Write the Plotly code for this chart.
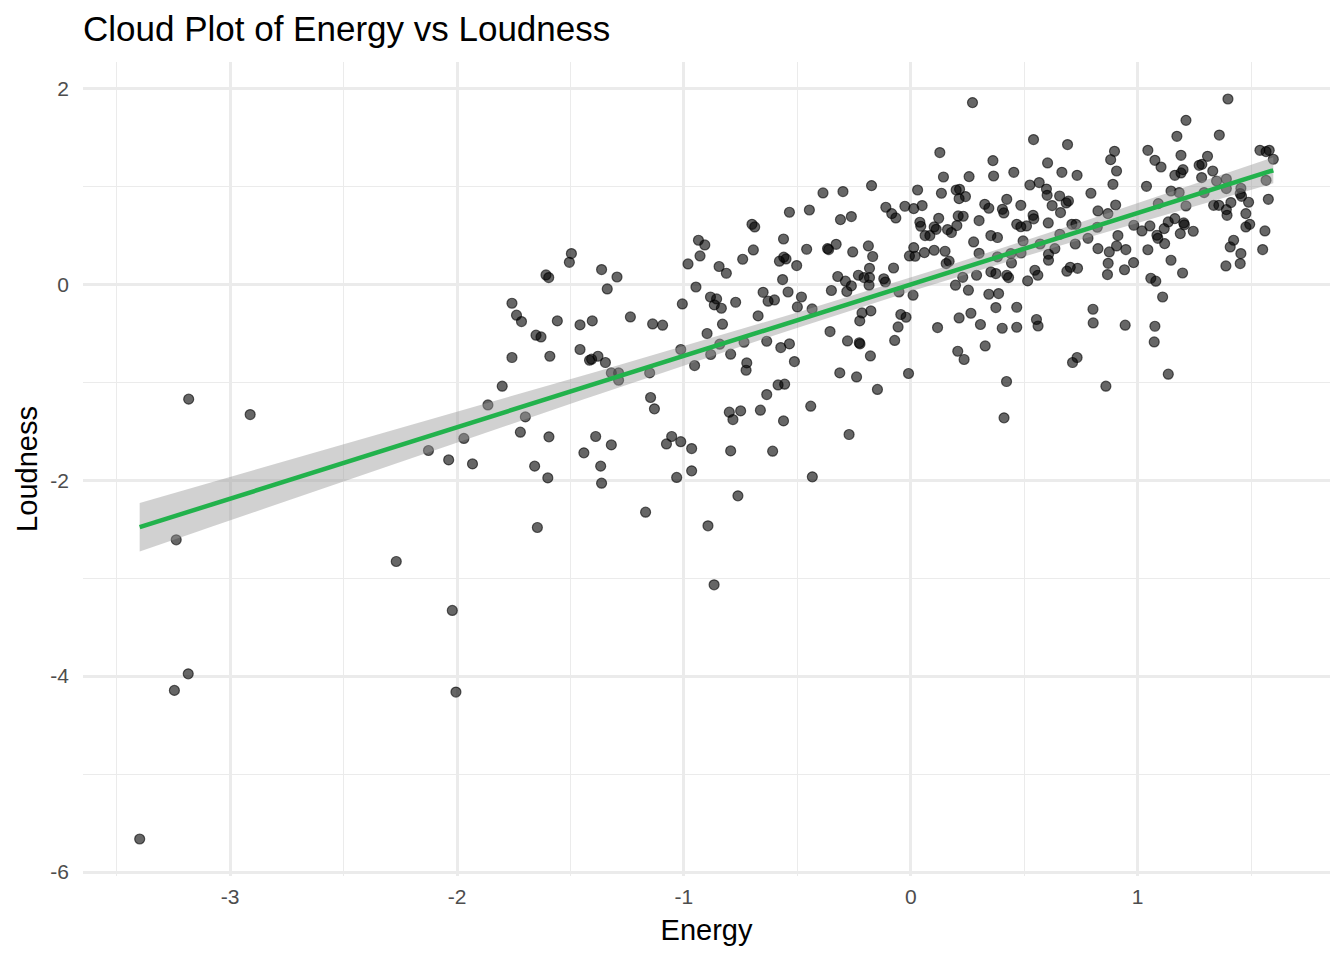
import numpy as np
import plotly.graph_objects as go

# standardized values
energy = [
    -3.399, -3.246, -3.185, -3.238, -3.183, -2.912, -2.268, -2.126, -2.037, -1.970,
    -1.932, -2.021, -2.005,
    -1.496, -1.505, -1.608, -1.596, -1.363, -1.295, -1.338, -1.758, -1.738, -1.716,
    -1.558, -1.458, -1.404, -1.236, -1.138, -1.094, -1.652, -1.630, -1.758, -1.591,
    -1.458, -1.379, -1.416, -1.407, -1.346, -1.320, -1.288, -1.288, -1.151, -1.801,
    -1.864, -1.699, -1.147, -1.130, -1.721, -1.595, -1.389, -1.320, -1.441, -1.054,
    -1.077, -1.658, -1.600, -1.367, -1.363, -1.032, -1.169, -1.646,
    -0.173, -0.387, -0.299, -0.535, -0.447, -0.310, -0.262, -0.700, -0.688, -0.936,
    -0.908, -0.561, -0.694, -0.459, -0.367, -0.362, -0.329, -0.256, -0.187, -0.168,
    -0.982, -0.929, -0.741, -0.579, -0.550, -0.560, -0.503, -0.845, -0.813, -0.182,
    -0.565, -0.322, -0.288, -0.231, -0.206, -0.182, -0.262, -0.184, -0.282, -0.350,
    -0.947, -1.007, -0.883, -0.856, -0.866, -0.835, -0.772, -0.651, -0.629, -0.601,
    -0.541, -0.482, -0.500, -0.435, -0.673, -0.830, -0.215, -0.176, -0.225, -0.356,
    -0.898, -0.279, -0.224, -0.227, -0.178, -1.014, -0.842, -0.735, -0.635, -0.573,
    -0.535, -0.882, -0.794, -0.953, -0.723, -0.726, -0.513, -0.313, -0.239, -1.014,
    -0.147, -0.585, -0.556, -0.635, -0.800, -0.750, -0.784, -0.663, -0.561, -0.441,
    -0.272, -0.966, -0.794, -0.609, -0.966, -0.434, -0.762, -0.894, -0.867,
    0.272, 0.128, 0.362, 0.144, 0.257, 0.365, 0.454, 0.030, 0.135, 0.200,
    0.215, 0.213, 0.241, 0.423, -0.110, -0.084, -0.066, -0.026, 0.013, 0.050,
    0.326, 0.344, 0.404, 0.410, 0.040, 0.044, 0.123, 0.209, 0.231, 0.103,
    0.112, 0.162, 0.179, 0.203, 0.301, 0.063, 0.084, 0.353, 0.382, 0.277,
    0.013, -0.006, 0.019, 0.060, 0.103, 0.151, 0.301, 0.156, 0.169, -0.076,
    0.382, 0.441, 0.444,
    -0.112, -0.119, -0.052, 0.010, -0.044, -0.021, -0.056, -0.071, 0.118, -0.010,
    0.197, 0.229, 0.254, 0.290, 0.353, 0.375, 0.423, 0.431, 0.344, 0.387,
    0.375, 0.467, 0.213, 0.265, 0.307, 0.403, 0.467, 0.207, 0.235, 0.328,
    0.422, 0.411,
    0.541, 0.691, 0.603, 0.666, 0.733, 0.898, 0.881, 0.907, 1.045, 0.525,
    0.566, 0.598, 0.601, 0.656, 0.623, 0.685, 0.695, 0.794, 0.891, 1.039,
    0.485, 0.539, 0.542, 0.660, 0.825, 0.869, 0.903, 0.467, 0.485, 0.510,
    0.606, 0.710, 0.728, 0.822, 0.983, 1.019, 1.054, 0.495, 0.570, 0.657,
    0.725, 0.781, 0.913, 0.907, 0.948, 1.045, 0.607, 0.607, 0.635, 0.825,
    0.875, 0.870, 0.982, 0.486, 0.547, 0.560, 0.703, 0.688, 0.735, 0.942,
    0.515, 0.867, 1.058, 0.554, 0.561, 0.803, 0.804, 0.945, 0.733, 0.713,
    0.860,
    1.398, 1.213, 1.173, 1.360, 1.191, 1.076, 1.103, 1.308, 1.271, 1.283,
    1.200, 1.191, 1.164, 1.331, 1.282, 1.539, 1.566, 1.580, 1.598, 1.348,
    1.391, 1.566, 1.147, 1.183, 1.293, 1.391, 1.455, 1.452, 1.458, 1.091,
    1.213, 1.335, 1.358, 1.411, 1.489, 1.576, 1.391, 1.394, 1.477, 1.135,
    1.164, 1.203, 1.206, 1.117, 1.085, 1.089, 1.188, 1.245, 1.119, 1.477,
    1.494, 1.561, 1.423, 1.408, 1.455, 1.551, 1.147, 1.389, 1.452, 1.198,
    1.080, 1.110, 1.076, 1.073, 1.135,
]
loudness = [
    -5.663, -4.146, -3.977, -2.609, -1.173, -1.330, -2.830, -1.697, -1.793, -1.574,
    -1.834, -3.330, -4.163,
    0.313, 0.224, 0.095, 0.068, 0.150, 0.074, -0.048, -0.194, -0.316, -0.381,
    -0.374, -0.415, -0.374, -0.334, -0.405, -0.418, -0.520, -0.538, -0.748, -0.735,
    -0.666, -0.735, -0.776, -0.765, -0.799, -0.905, -0.905, -0.980, -0.905, -1.041,
    -1.232, -1.354, -1.156, -1.272, -1.510, -1.558, -1.554, -1.640, -1.721, -1.554,
    -1.630, -1.857, -1.977, -1.857, -2.031, -1.972, -2.327, -2.483,
    1.007, 0.932, 0.946, 0.735, 0.758, 0.660, 0.691, 0.612, 0.585, 0.449,
    0.401, 0.462, 0.350, 0.357, 0.364, 0.354, 0.408, 0.330, 0.391, 0.283,
    0.207, 0.289, 0.255, 0.235, 0.258, 0.276, 0.191, 0.181, 0.112, 0.163,
    0.048, 0.079, 0.031, 0.092, 0.068, 0.068, -0.017, -0.010, -0.074, -0.064,
    -0.028, -0.201, -0.130, -0.150, -0.211, -0.245, -0.184, -0.082, -0.173, -0.160,
    -0.079, -0.130, -0.232, -0.252, -0.323, -0.408, -0.293, -0.272, -0.374, -0.483,
    -0.503, -0.579, -0.609, -0.597, -0.732, -0.666, -0.612, -0.592, -0.582, -0.646,
    -0.609, -0.717, -0.714, -0.830, -0.803, -0.878, -0.789, -0.905, -0.946, -1.607,
    -1.074, -1.028, -1.020, -1.126, -1.306, -1.293, -1.381, -1.286, -1.395, -1.245,
    -1.534, -1.677, -1.701, -1.704, -1.905, -1.966, -2.160, -2.466, -3.068,
    1.854, 1.344, 1.262, 1.095, 1.099, 1.105, 1.143, 0.962, 0.929, 0.962,
    0.969, 0.874, 0.895, 0.867, 0.786, 0.721, 0.677, 0.796, 0.772, 0.803,
    0.816, 0.776, 0.765, 0.728, 0.633, 0.592, 0.673, 0.697, 0.694, 0.585,
    0.561, 0.558, 0.528, 0.599, 0.650, 0.497, 0.497, 0.497, 0.477, 0.432,
    0.374, 0.289, 0.286, 0.323, 0.347, 0.337, 0.316, 0.211, 0.235, 0.166,
    0.279, 0.313, 0.217,
    0.023, 0.056, -0.079, -0.112, -0.309, -0.337, -0.436, -0.574, -0.442, -0.911,
    -0.010, 0.071, -0.061, 0.092, 0.126, 0.109, 0.092, 0.068, -0.102, -0.095,
    -0.238, -0.235, -0.344, -0.296, -0.411, -0.449, -0.439, -0.684, -0.768, -0.630,
    -0.993, -1.364,
    1.477, 1.426, 1.238, 1.143, 1.112, 1.357, 1.272, 1.156, 1.367, 1.013,
    1.038, 0.972, 0.908, 0.901, 0.803, 0.830, 0.850, 0.929, 1.020, 1.000,
    0.806, 0.704, 0.668, 0.732, 0.748, 0.721, 0.809, 0.612, 0.587, 0.595,
    0.626, 0.612, 0.612, 0.582, 0.602, 0.544, 0.595, 0.442, 0.411, 0.510,
    0.411, 0.469, 0.497, 0.391, 0.354, 0.352, 0.306, 0.245, 0.364, 0.364,
    0.330, 0.214, 0.221, 0.319, 0.143, 0.092, 0.173, 0.133, 0.163, 0.148,
    0.034, 0.099, 0.061, -0.360, -0.426, -0.255, -0.395, -0.418, -0.748, -0.799,
    -1.041,
    1.891, 1.673, 1.510, 1.523, 1.316, 1.265, 1.197, 1.306, 1.214, 1.224,
    1.170, 1.136, 1.112, 1.156, 1.089, 1.367, 1.354, 1.367, 1.276, 1.054,
    1.074, 1.061, 0.952, 0.936, 0.936, 0.977, 0.980, 0.926, 0.898, 0.823,
    0.799, 0.806, 0.806, 0.834, 0.837, 0.867, 0.762, 0.704, 0.721, 0.636,
    0.670, 0.626, 0.607, 0.568, 0.500, 0.469, 0.517, 0.541, 0.415, 0.585,
    0.612, 0.544, 0.449, 0.381, 0.313, 0.354, 0.245, 0.187, 0.211, 0.115,
    0.031, -0.130, -0.429, -0.589, -0.918,
]

x_ticks = [-3, -2, -1, 0, 1]
x_labels = ["-3", "-2", "-1", "0", "1"]
y_ticks = [-6, -4, -2, 0, 2]
y_labels = ["-6", "-4", "-2", "0", "2"]

x = np.array(energy)
y = np.array(loudness)

# geom_smooth(method = "lm") equivalent
n = len(x)
slope, intercept = np.polyfit(x, y, 1)
xs = np.linspace(x.min(), x.max(), 80)
fit = intercept + slope * xs
resid = y - (intercept + slope * x)
s = np.sqrt(np.sum(resid ** 2) / (n - 2))
sxx = np.sum((x - x.mean()) ** 2)
se = s * np.sqrt(1 / n + (xs - x.mean()) ** 2 / sxx)
tcrit = 1.966
upper = fit + tcrit * se
lower = fit - tcrit * se

def padded(v):
    lo, hi = v.min(), v.max()
    pad = (hi - lo) * 0.05
    return [lo - pad, hi + pad]

fig = go.Figure()

fig.add_trace(go.Scatter(
    x=x, y=y, mode="markers",
    marker=dict(size=10, color="rgba(0,0,0,0.6)",
                line=dict(width=1.2, color="rgba(0,0,0,0.6)")),
    hoverinfo="skip", showlegend=False))

fig.add_trace(go.Scatter(
    x=np.concatenate([xs, xs[::-1]]),
    y=np.concatenate([upper, lower[::-1]]),
    fill="toself", fillcolor="rgba(153,153,153,0.45)",
    line=dict(width=0), mode="lines", hoverinfo="skip", showlegend=False))

fig.add_trace(go.Scatter(
    x=xs, y=fit, mode="lines",
    line=dict(color="#22B24C", width=4.5),
    hoverinfo="skip", showlegend=False))

font_family = "Liberation Sans, Arial, sans-serif"

fig.update_layout(
    width=1344, height=960,
    margin=dict(l=83, r=14, t=62, b=84),
    paper_bgcolor="white", plot_bgcolor="white",
    font=dict(family=font_family, color="black"),
    title=dict(text="Cloud Plot of Energy vs Loudness",
               font=dict(size=35, color="black"),
               x=83 / 1344, xref="container", xanchor="left",
               y=1 - 29 / 960, yref="container", yanchor="middle"),
)

fig.update_xaxes(
    range=padded(x), tickvals=x_ticks, ticktext=x_labels,
    showgrid=True, gridcolor="#EBEBEB", gridwidth=2.7,
    minor=dict(dtick=0.5, tick0=0, showgrid=True, gridcolor="#EBEBEB", gridwidth=1.4),
    zeroline=False, showline=False, ticks="",
    tickfont=dict(size=21, color="#4D4D4D"), ticklabelstandoff=6,
    title=dict(text="Energy", font=dict(size=29, color="black"), standoff=12),
)
fig.update_yaxes(
    range=padded(y), tickvals=y_ticks, ticktext=y_labels,
    showgrid=True, gridcolor="#EBEBEB", gridwidth=2.7,
    minor=dict(dtick=1, tick0=0, showgrid=True, gridcolor="#EBEBEB", gridwidth=1.4),
    zeroline=False, showline=False, ticks="",
    tickfont=dict(size=21, color="#4D4D4D"), ticklabelstandoff=13,
    title=dict(text="Loudness", font=dict(size=29, color="black"), standoff=4),
)

# drop the default 8px body margin so the figure sits at the page origin
fig.write_html("out.html", config={"displayModeBar": False},
               post_script="document.body.style.margin='0px';")
